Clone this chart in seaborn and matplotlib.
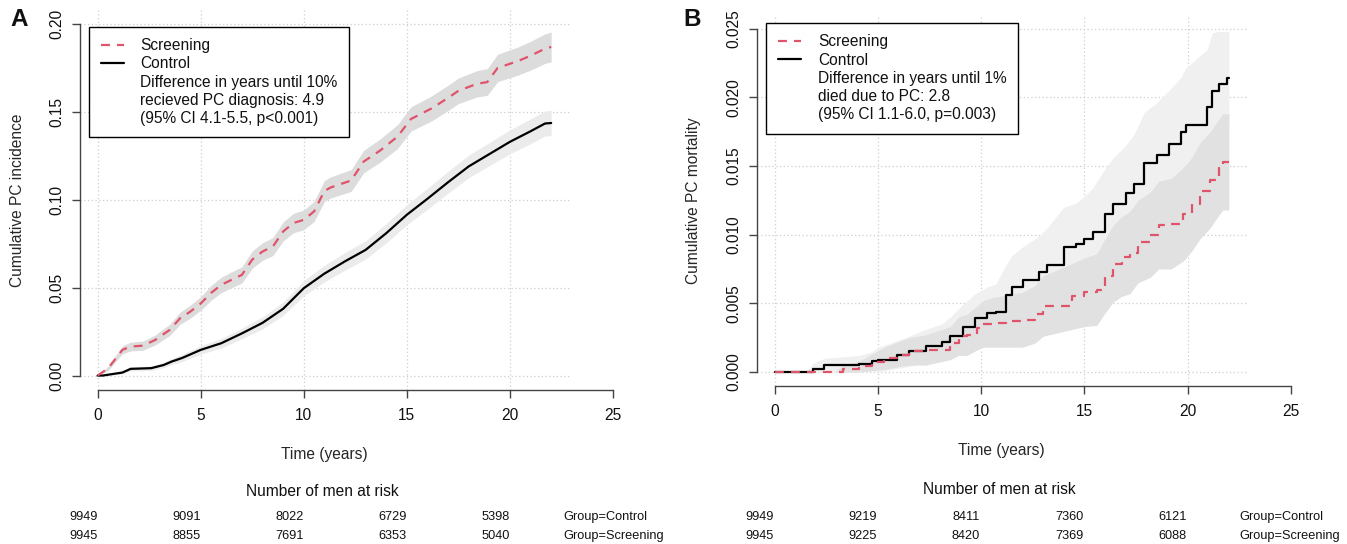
import numpy as np
import pandas as pd
import matplotlib
matplotlib.use("Agg")
import matplotlib.pyplot as plt
from matplotlib.lines import Line2D
import seaborn as sns

# Dados (tempo em anos, incidencia/mortalidade cumulativa, meia-largura do IC)
# Painel A - incidencia
a_scr_t = [0, 0.5, 1.2, 1.6, 2.2, 2.8, 3.0, 3.5, 4.0, 4.5, 5.0, 5.5, 6.0, 6.5, 7.0, 7.5, 8.0, 8.5, 9.0, 9.5,
           10.0, 10.5, 11.0, 11.3, 12.3, 12.9, 13.7, 14.55, 15.2, 16.2, 17.0, 17.5, 18.4, 18.9, 19.4, 20.4,
           21.0, 21.7, 22.0]
a_scr_v = [0, 0.004, 0.0146, 0.0165, 0.017, 0.0203, 0.022, 0.026, 0.0326, 0.0364, 0.041, 0.047, 0.0516,
           0.0545, 0.0573, 0.066, 0.0706, 0.0734, 0.082, 0.0868, 0.0886, 0.0934, 0.105, 0.107, 0.111, 0.1217,
           0.128, 0.136, 0.146, 0.152, 0.158, 0.162, 0.166, 0.167, 0.175, 0.179, 0.182, 0.186, 0.187]
a_scr_hw = [0, 0.0012, 0.0023, 0.0025, 0.0026, 0.0028, 0.003, 0.0032, 0.0035, 0.0037, 0.0039, 0.0042, 0.0044,
            0.0045, 0.0046, 0.0049, 0.005, 0.0051, 0.0054, 0.0055, 0.0056, 0.0057, 0.006, 0.006, 0.0062, 0.0064,
            0.0066, 0.0068, 0.0069, 0.0071, 0.0072, 0.0073, 0.0075, 0.0076, 0.0078, 0.008, 0.0082, 0.0084, 0.0085]

a_ctl_t = [0, 0.25, 1.2, 1.6, 2.6, 3.2, 3.6, 4.1, 5, 6, 7, 8, 9, 10, 11, 12, 13, 14, 15, 16, 17, 18, 19, 20,
           21, 21.7, 22]
a_ctl_v = [0, 0, 0.0017, 0.0038, 0.0042, 0.006, 0.008, 0.01, 0.0146, 0.0184, 0.024, 0.03, 0.038, 0.0497, 0.058,
           0.065, 0.0715, 0.081, 0.0915, 0.1006, 0.11, 0.119, 0.126, 0.133, 0.139, 0.1434, 0.1437]
a_ctl_hw = [0, 0.0003, 0.0008, 0.0012, 0.0013, 0.0015, 0.0017, 0.002, 0.0024, 0.0027, 0.003, 0.0034, 0.0038,
            0.0043, 0.0047, 0.005, 0.0052, 0.0055, 0.0057, 0.006, 0.0062, 0.0064, 0.0066, 0.0068, 0.007,
            0.0071, 0.0071]

# Painel B - mortalidade
b_ctl_t = [0, 1.5, 1.85, 2.4, 4.1, 4.7, 5.0, 5.9, 6.5, 7.3, 8.1, 8.5, 9.1, 9.7, 10.3, 10.7, 11.2, 11.5, 12.0,
           12.8, 13.2, 14.0, 14.6, 15.0, 15.4, 16.0, 16.4, 17.0, 17.4, 17.9, 18.5, 19.1, 19.7, 19.9, 20.95,
           21.2, 21.5, 21.9, 22.0]
b_ctl_v = [0, 0, 0.00024, 0.0005, 0.0006, 0.00077, 0.0009, 0.00126, 0.0015, 0.0019, 0.0022, 0.0026, 0.0033,
           0.0039, 0.0043, 0.0044, 0.0056, 0.0062, 0.0067, 0.0073, 0.0078, 0.0091, 0.0093, 0.0097, 0.0102,
           0.0115, 0.0122, 0.013, 0.0137, 0.0152, 0.0158, 0.0166, 0.0175, 0.018, 0.0193, 0.0205, 0.021,
           0.0214, 0.0214]
b_ctl_hw = [0, 0, 0.0004, 0.0005, 0.0006, 0.0007, 0.0009, 0.001, 0.0011, 0.0012, 0.0013, 0.0014, 0.0016,
            0.0018, 0.0019, 0.002, 0.0022, 0.0023, 0.0024, 0.0026, 0.0027, 0.0029, 0.003, 0.0031, 0.0032,
            0.0033, 0.0034, 0.0035, 0.0036, 0.0037, 0.0038, 0.0039, 0.004, 0.0041, 0.0042, 0.0042, 0.0038,
            0.0034, 0.0034]

b_scr_t = [0, 2.9, 3.3, 4.1, 4.7, 5.3, 5.9, 6.5, 7.3, 8.5, 8.9, 9.3, 9.8, 10.1, 10.5, 11.2, 12.0, 12.6, 13.0,
           14.4, 15.0, 15.6, 16.0, 16.4, 16.8, 17.2, 17.6, 18.2, 18.6, 19.2, 19.8, 20.2, 20.6, 21.1, 21.5,
           21.7, 22.0]
b_scr_v = [0, 0, 0.0002, 0.0004, 0.0007, 0.001, 0.00126, 0.0015, 0.0016, 0.0021, 0.0026, 0.0027, 0.0032,
           0.0035, 0.0036, 0.0037, 0.0038, 0.0042, 0.0048, 0.0055, 0.0058, 0.006, 0.007, 0.0079, 0.0084,
           0.0087, 0.0095, 0.01, 0.0107, 0.0108, 0.0115, 0.0122, 0.0132, 0.014, 0.0149, 0.0153, 0.0153]
b_scr_hw = [0, 0, 0.0003, 0.0004, 0.0006, 0.0008, 0.0009, 0.001, 0.0011, 0.0012, 0.0014, 0.0015, 0.0016,
            0.0017, 0.0018, 0.0019, 0.002, 0.0021, 0.0022, 0.0024, 0.0025, 0.0026, 0.0027, 0.0028, 0.0029,
            0.003, 0.003, 0.0031, 0.0032, 0.0033, 0.0034, 0.0034, 0.0035, 0.0035, 0.0035, 0.0035, 0.0035]

# Tabela de numero em risco
risk_times = [0, 5, 10, 15, 20]
a_risk_control = [9949, 9091, 8022, 6729, 5398]
a_risk_screening = [9945, 8855, 7691, 6353, 5040]
b_risk_control = [9949, 9219, 8411, 7360, 6121]
b_risk_screening = [9945, 9225, 8420, 7369, 6088]

a_legend_text = ["Difference in years until 10%", "recieved PC diagnosis: 4.9", "(95% CI 4.1-5.5, p<0.001)"]
b_legend_text = ["Difference in years until 1%", "died due to PC: 2.8", "(95% CI 1.1-6.0, p=0.003)"]

# Estilo
sns.set_style("white")
plt.rcParams["font.family"] = ["Liberation Sans", "DejaVu Sans"]
plt.rcParams["text.color"] = "#111111"

RED = "#DF536B"
FS = 11.2
W, H = 1347, 544

fig = plt.figure(figsize=(W / 100, H / 100), dpi=100)


def px_axes(left, right, top, bottom):
    return fig.add_axes([left / W, 1 - bottom / H, (right - left) / W, (bottom - top) / H])


def painel(ax, scr, ctl, ymax, yticks, ylabels, ylabel, legend_text, step, scr_band, ctl_band):
    scr_df = pd.DataFrame({"t": scr[0], "v": scr[1], "hw": scr[2]})
    ctl_df = pd.DataFrame({"t": ctl[0], "v": ctl[1], "hw": ctl[2]})
    dstyle = "steps-post" if step else "default"

    ymin = -0.04 * ymax
    ytop = 1.04 * ymax
    xhi = 22 * 1.04

    # grade pontilhada (estilo R grid)
    ax.hlines(yticks, -0.88, xhi, colors="#CFCFCF", linestyles=(0, (1, 2)), lw=0.9, zorder=0)
    ax.vlines([0, 5, 10, 15, 20], ymin, ytop, colors="#CFCFCF", linestyles=(0, (1, 2)), lw=0.9, zorder=0)

    # bandas de IC
    ax.fill_between(ctl_df["t"], (ctl_df["v"] - ctl_df["hw"]).clip(lower=0), ctl_df["v"] + ctl_df["hw"],
                    color=ctl_band, lw=0, zorder=1)
    ax.fill_between(scr_df["t"], (scr_df["v"] - scr_df["hw"]).clip(lower=0), scr_df["v"] + scr_df["hw"],
                    color=scr_band, lw=0, zorder=1)

    sns.lineplot(data=ctl_df, x="t", y="v", color="black", lw=1.6, drawstyle=dstyle,
                 errorbar=None, legend=False, ax=ax, zorder=3)
    sns.lineplot(data=scr_df, x="t", y="v", color=RED, lw=1.6, drawstyle=dstyle,
                 linestyle=(0, (4, 3.2)), errorbar=None, legend=False, ax=ax, zorder=4)

    ax.set_xlim(-0.88, 25.3)
    ax.set_ylim(ymin, ytop)
    for s in ["top", "right"]:
        ax.spines[s].set_visible(False)
    for s in ["left", "bottom"]:
        ax.spines[s].set_color("#444444")
        ax.spines[s].set_linewidth(1.0)
    ax.spines["left"].set_bounds(0, ymax)
    ax.spines["bottom"].set_bounds(0, 25)
    ax.set_xticks([0, 5, 10, 15, 20, 25])
    ax.set_yticks(yticks)
    ax.set_yticklabels(ylabels, rotation=90, va="center")
    ax.tick_params(axis="both", length=6, width=1.0, color="#444444", labelsize=FS, labelcolor="#111111",
                   direction="out", left=True, bottom=True)
    ax.tick_params(axis="x", pad=7)
    ax.tick_params(axis="y", pad=5)
    ax.set_xlabel("Time (years)", fontsize=FS)
    ax.set_ylabel(ylabel, fontsize=FS)

    handles = [Line2D([], [], color=RED, lw=1.6, linestyle=(0, (4, 3.2))),
               Line2D([], [], color="black", lw=1.6)] + [Line2D([], [], color="none")] * 3
    labels = ["Screening", "Control"] + legend_text
    leg = ax.legend(handles, labels, loc="upper left", borderaxespad=0, fontsize=FS,
                    frameon=True, fancybox=False, edgecolor="black", framealpha=1, borderpad=0.75,
                    handlelength=1.5, handletextpad=1.05, labelspacing=0.2)
    leg.get_frame().set_linewidth(1.0)
    return leg


# Painel A
axA = px_axes(79.5, 619.2, 10, 389.6)
legA = painel(axA, (a_scr_t, a_scr_v, a_scr_hw), (a_ctl_t, a_ctl_v, a_ctl_hw), 0.2,
              [0, 0.05, 0.10, 0.15, 0.20], ["0.00", "0.05", "0.10", "0.15", "0.20"],
              "Cumulative PC incidence", a_legend_text, False, "#DCDCDC", "#EBEBEB")
legA.set_bbox_to_anchor((0.0176, 0.956), transform=axA.transAxes)
axA.xaxis.set_label_coords(0.4527, -0.151)
axA.yaxis.set_label_coords(-0.101, 0.5)

# Painel B
axB = px_axes(756.7, 1297, 15, 385.7)
legB = painel(axB, (b_scr_t, b_scr_v, b_scr_hw), (b_ctl_t, b_ctl_v, b_ctl_hw), 0.025,
              [0, 0.005, 0.010, 0.015, 0.020, 0.025], ["0.000", "0.005", "0.010", "0.015", "0.020", "0.025"],
              "Cumulative PC mortality", b_legend_text, True, "#E1E1E1", "#F0F0F0")
legB.set_bbox_to_anchor((0.0181, 0.979), transform=axB.transAxes)
axB.xaxis.set_label_coords(0.4522, -0.155)
axB.yaxis.set_label_coords(-0.103, 0.5)


# Tabelas de numero em risco
def tabela(x0, ctl, scr, title_y):
    tab = px_axes(x0, x0 + 539.7, 470, 544)
    tab.set_xlim(-0.88, 25.3)
    tab.set_ylim(544, 470)
    tab.axis("off")
    tab.text(11.6, title_y, "Number of men at risk", ha="center", va="center", fontsize=FS)
    for t, c, s in zip(risk_times, ctl, scr):
        tab.text(t, 517, str(c), ha="center", va="center", fontsize=9.2)
        tab.text(t, 536, str(s), ha="center", va="center", fontsize=9.2)
    tab.text(23.27, 517, "Group=Control", ha="left", va="center", fontsize=9.2)
    tab.text(23.27, 536, "Group=Screening", ha="left", va="center", fontsize=9.2)


tabela(65.5, a_risk_control, a_risk_screening, 492)
tabela(741.7, b_risk_control, b_risk_screening, 489)

fig.text(19 / W, 1 - 19 / H, "A", fontsize=17.5, fontweight="bold", ha="center", va="center")
fig.text(692 / W, 1 - 19 / H, "B", fontsize=17.5, fontweight="bold", ha="center", va="center")

fig.savefig("out.png", dpi=100)
